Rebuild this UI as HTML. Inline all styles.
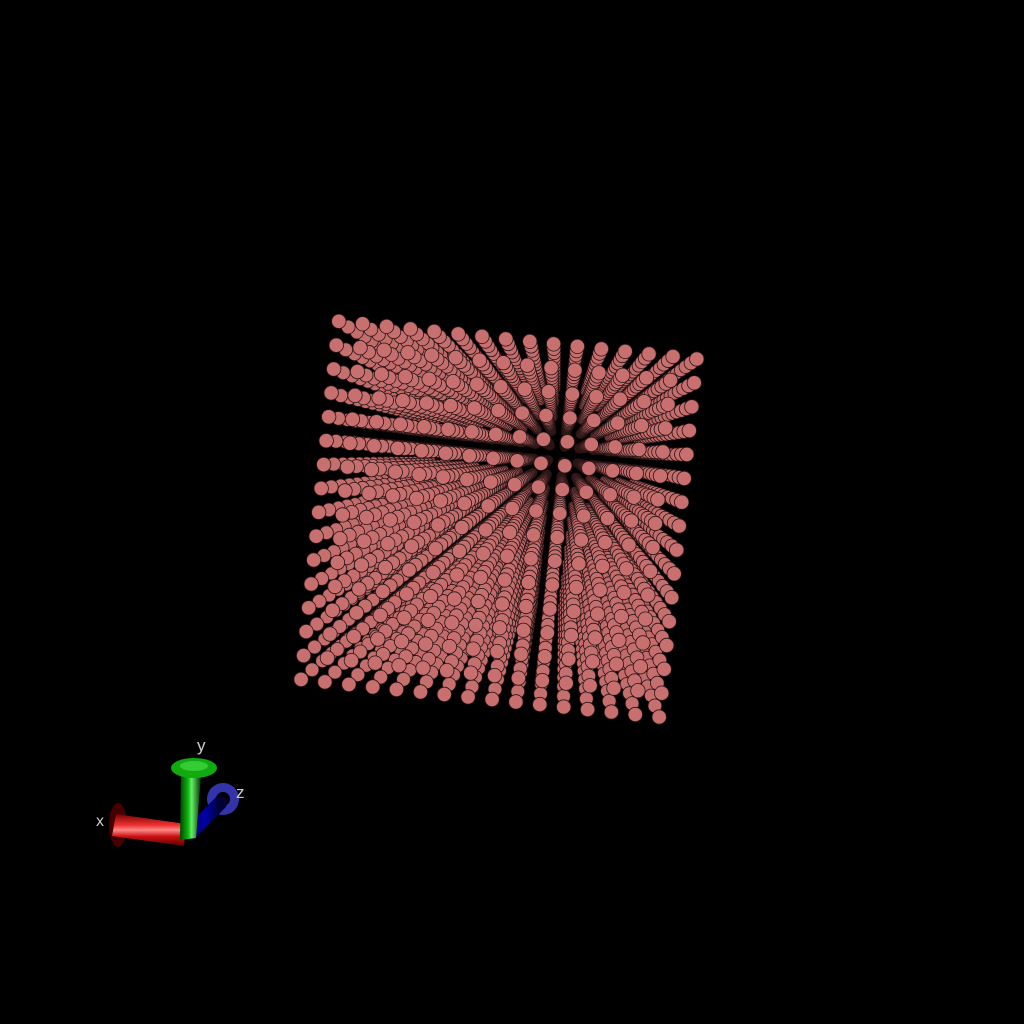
<!DOCTYPE html>
<html><head><meta charset="utf-8"><style>
html,body{margin:0;padding:0;background:#000;}
svg{display:block;}
</style></head><body>
<svg id="chart" width="1024" height="1024" viewBox="0 0 1024 1024" xmlns="http://www.w3.org/2000/svg">
<defs>
<linearGradient id="gx" x1="0" y1="0" x2="0" y2="1"><stop offset="0" stop-color="#700"/><stop offset="0.35" stop-color="#e33"/><stop offset="0.5" stop-color="#f88"/><stop offset="0.7" stop-color="#c11"/><stop offset="1" stop-color="#500"/></linearGradient>
<linearGradient id="gy" x1="0" y1="0" x2="1" y2="0"><stop offset="0" stop-color="#040"/><stop offset="0.4" stop-color="#1b1"/><stop offset="0.55" stop-color="#6e6"/><stop offset="1" stop-color="#030"/></linearGradient>
<linearGradient id="gz" x1="0" y1="0" x2="1" y2="0"><stop offset="0" stop-color="#005"/><stop offset="0.5" stop-color="#00a"/><stop offset="1" stop-color="#003"/></linearGradient>
</defs>
<g id="points"></g>
<g>
  <ellipse cx="223" cy="799" rx="16" ry="16" fill="#33a"/>
  <ellipse cx="223" cy="799" rx="7" ry="7" fill="#000"/>
  <line x1="190" y1="833" x2="220" y2="803" stroke="url(#gz)" stroke-width="14" stroke-linecap="round"/>
  <ellipse cx="118" cy="825" rx="9" ry="22" fill="#400"/>
  <polygon points="116,814 186,824 184,846 112,836" fill="url(#gx)"/>
  <polygon points="181,774 201,775 196,838 180,840" fill="url(#gy)"/>
  <ellipse cx="194" cy="768" rx="23" ry="10" fill="#1a1"/>
  <ellipse cx="194" cy="766" rx="14" ry="5" fill="#3c3"/>
  <text x="96" y="826" fill="#ccc" font-family="Liberation Sans, sans-serif" font-size="16">x</text>
  <text x="197" y="751" fill="#ccc" font-family="Liberation Sans, sans-serif" font-size="17">y</text>
  <text x="236" y="798" fill="#ccc" font-family="Liberation Sans, sans-serif" font-size="17">z</text>
</g>
</svg>
<script>
// lattice levels along each axis (data)
const xValues = [-1,-0.867,-0.733,-0.6,-0.467,-0.333,-0.2,-0.067,0.067,0.2,0.333,0.467,0.6,0.733,0.867,1];
const yValues = [-1,-0.867,-0.733,-0.6,-0.467,-0.333,-0.2,-0.067,0.067,0.2,0.333,0.467,0.6,0.733,0.867,1];
const zValues = [-1,-0.867,-0.733,-0.6,-0.467,-0.333,-0.2,-0.067,0.067,0.2,0.333,0.467,0.6,0.733,0.867,1];

const P = {x:560, y:455}, f = 540, d = 4, cx = -0.3, cy = 0.39, rw = 0.04;
const ang = 6*Math.PI/180, ca = Math.cos(ang), sa = Math.sin(ang);
function project(x,y,z){
  const depth = d - z;
  const sx = f*(x+cx)/depth, sy = f*(y+cy)/depth;
  return {x: P.x + sx*ca - sy*sa, y: P.y + sx*sa + sy*ca, r: f*rw/depth, z: z};
}
const g = document.getElementById('points');
const NS = 'http://www.w3.org/2000/svg';
const zs = zValues.slice().sort((a,b)=>a-b);
for (const z of zs){
  for (const y of yValues){
    for (const x of xValues){
      const p = project(x,y,z);
      const c = document.createElementNS(NS,'circle');
      c.setAttribute('cx', p.x.toFixed(1));
      c.setAttribute('cy', p.y.toFixed(1));
      c.setAttribute('r', p.r.toFixed(2));
      const t = (z+1)/2;
      const R = Math.round(175+25*t), G = Math.round(95+17*t), B = Math.round(95+17*t);
      c.setAttribute('fill', `rgb(${R},${G},${B})`);
      c.setAttribute('stroke', '#2a1414');
      c.setAttribute('stroke-width', '0.8');
      
      
      g.appendChild(c);
    }
  }
}
</script>
</body></html>
